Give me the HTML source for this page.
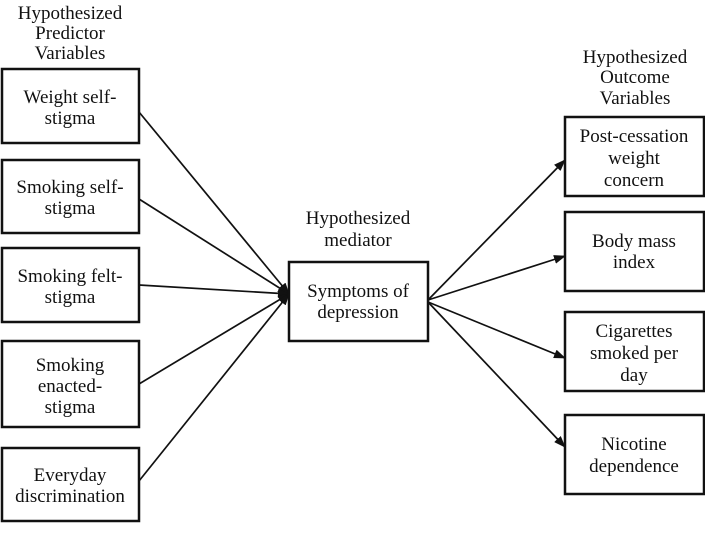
<!DOCTYPE html>
<html><head><style>
body{margin:0;background:#fff;}
svg{display:block;}
text{font-family:"Liberation Serif",serif;font-size:19px;fill:#111;text-anchor:middle;}
rect{fill:#fff;stroke:#111;stroke-width:2.5;}
line{stroke:#111;stroke-width:1.7;}
</style></head><body>
<svg width="705" height="552" viewBox="0 0 705 552">
<defs><marker id="a" markerWidth="12" markerHeight="9" refX="11" refY="4.5" orient="auto" markerUnits="userSpaceOnUse"><path d="M0,0 L12,4.5 L0,9 z" fill="#111"/></marker></defs>
<text x="70" y="19">Hypothesized</text><text x="70" y="39">Predictor</text><text x="70" y="59">Variables</text>
<text x="635" y="63">Hypothesized</text><text x="635" y="83">Outcome</text><text x="635" y="104">Variables</text>
<text x="358" y="224">Hypothesized</text><text x="358" y="246">mediator</text>
<line x1="139" y1="112" x2="289" y2="294" marker-end="url(#a)"/>
<line x1="139" y1="199" x2="289" y2="294" marker-end="url(#a)"/>
<line x1="139" y1="285" x2="289" y2="294" marker-end="url(#a)"/>
<line x1="139" y1="384" x2="289" y2="294" marker-end="url(#a)"/>
<line x1="139" y1="481" x2="289" y2="294" marker-end="url(#a)"/>
<line x1="428" y1="300" x2="565" y2="160" marker-end="url(#a)"/>
<line x1="428" y1="300" x2="565" y2="256" marker-end="url(#a)"/>
<line x1="428" y1="302" x2="565" y2="358" marker-end="url(#a)"/>
<line x1="428" y1="302" x2="565" y2="447" marker-end="url(#a)"/>
<rect x="2" y="69" width="137" height="74"/><text x="70" y="103">Weight self-</text><text x="70" y="124">stigma</text>
<rect x="2" y="160" width="137" height="73"/><text x="70" y="193">Smoking self-</text><text x="70" y="214">stigma</text>
<rect x="2" y="248" width="137" height="74"/><text x="70" y="282">Smoking felt-</text><text x="70" y="303">stigma</text>
<rect x="2" y="341" width="137" height="86"/><text x="70" y="371">Smoking</text><text x="70" y="392">enacted-</text><text x="70" y="413">stigma</text>
<rect x="2" y="448" width="137" height="73"/><text x="70" y="481">Everyday</text><text x="70" y="502">discrimination</text>
<rect x="289" y="262" width="139" height="79"/><text x="358" y="297">Symptoms of</text><text x="358" y="318">depression</text>
<rect x="565" y="117" width="139" height="79"/><text x="634" y="142">Post-cessation</text><text x="634" y="164">weight</text><text x="634" y="186">concern</text>
<rect x="565" y="212" width="139" height="79"/><text x="634" y="247">Body mass</text><text x="634" y="268">index</text>
<rect x="565" y="312" width="139" height="79"/><text x="634" y="337">Cigarettes</text><text x="634" y="359">smoked per</text><text x="634" y="381">day</text>
<rect x="565" y="415" width="139" height="79"/><text x="634" y="450">Nicotine</text><text x="634" y="472">dependence</text>
</svg>
</body></html>
